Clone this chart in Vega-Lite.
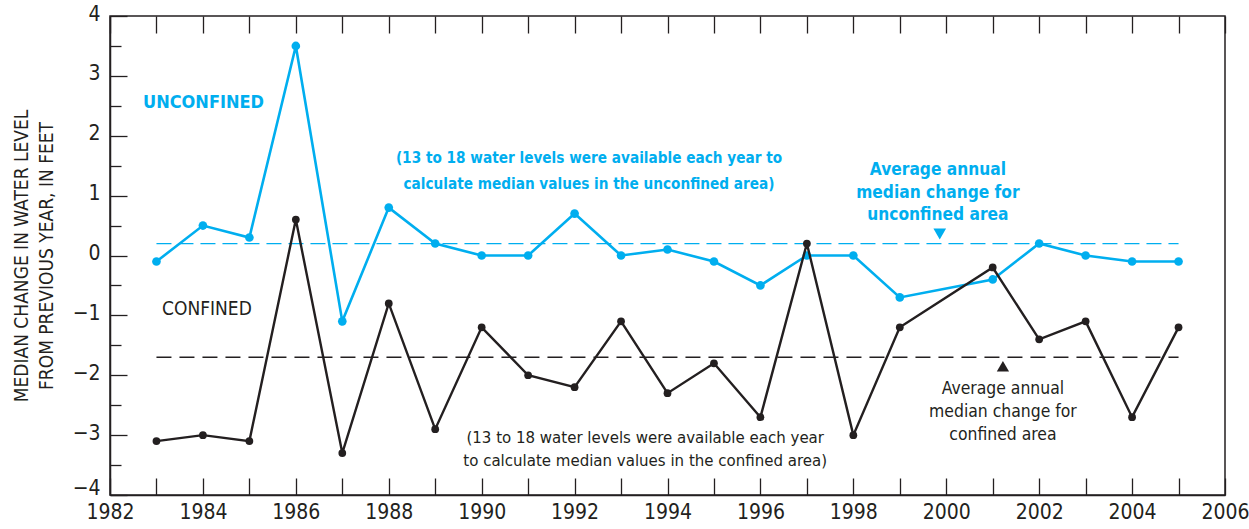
{
  "$schema": "https://vega.github.io/schema/vega-lite/v6.json",
  "width": 1115,
  "height": 479,
  "autosize": {"type": "none"},
  "padding": {"left": 110, "top": 16, "right": 24, "bottom": 34},
  "background": "white",
  "config": {
    "view": {"stroke": "#231F20", "strokeWidth": 1.5},
    "font": "Liberation Sans Narrow, DejaVu Sans Condensed, Liberation Sans",
    "axis": {"grid": false, "domainColor": "#231F20", "tickColor": "#231F20", "labelColor": "#231F20", "titleColor": "#231F20", "tickWidth": 1.3, "domainWidth": 1.5}
  },
  "datasets": {
    "unconfined": [
      {"year": 1983, "change": -0.1}, {"year": 1984, "change": 0.5}, {"year": 1985, "change": 0.3},
      {"year": 1986, "change": 3.5}, {"year": 1987, "change": -1.1}, {"year": 1988, "change": 0.8},
      {"year": 1989, "change": 0.2}, {"year": 1990, "change": 0.0}, {"year": 1991, "change": 0.0},
      {"year": 1992, "change": 0.7}, {"year": 1993, "change": 0.0}, {"year": 1994, "change": 0.1},
      {"year": 1995, "change": -0.1}, {"year": 1996, "change": -0.5}, {"year": 1997, "change": 0.0},
      {"year": 1998, "change": 0.0}, {"year": 1999, "change": -0.7}, {"year": 2001, "change": -0.4},
      {"year": 2002, "change": 0.2}, {"year": 2003, "change": 0.0}, {"year": 2004, "change": -0.1},
      {"year": 2005, "change": -0.1}
    ],
    "confined": [
      {"year": 1983, "change": -3.1}, {"year": 1984, "change": -3.0}, {"year": 1985, "change": -3.1},
      {"year": 1986, "change": 0.6}, {"year": 1987, "change": -3.3}, {"year": 1988, "change": -0.8},
      {"year": 1989, "change": -2.9}, {"year": 1990, "change": -1.2}, {"year": 1991, "change": -2.0},
      {"year": 1992, "change": -2.2}, {"year": 1993, "change": -1.1}, {"year": 1994, "change": -2.3},
      {"year": 1995, "change": -1.8}, {"year": 1996, "change": -2.7}, {"year": 1997, "change": 0.2},
      {"year": 1998, "change": -3.0}, {"year": 1999, "change": -1.2}, {"year": 2001, "change": -0.2},
      {"year": 2002, "change": -1.4}, {"year": 2003, "change": -1.1}, {"year": 2004, "change": -2.7},
      {"year": 2005, "change": -1.2}
    ],
    "avgUnconfined": [{"year": 1983, "change": 0.2}, {"year": 2005, "change": 0.2}],
    "avgConfined": [{"year": 1983, "change": -1.7}, {"year": 2005, "change": -1.7}],
    "triDown": [{"year": 1999.86, "change": 0.36}],
    "triUp": [{"year": 2001.22, "change": -1.85}],
    "blueBig": [{"year": 1982.71, "change": 2.55, "label": "UNCONFINED"}],
    "blackBig": [{"year": 1983.12, "change": -0.9, "label": "CONFINED"}],
    "blueNote": [{"year": 1992.31, "change": 1.636, "label": "(13 to 18 water levels were available each year to\ncalculate median values in the unconfined area)"}],
    "blueAvg": [{"year": 1999.82, "change": 1.42, "label": "Average annual\nmedian change for\nunconfined area"}],
    "blackNote": [{"year": 1993.52, "change": -3.055, "label": "(13 to 18 water levels were available each year\nto calculate median values in the confined area)"}],
    "blackAvg": [{"year": 2001.22, "change": -2.237, "label": "Average annual\nmedian change for\nconfined area"}]
  },
  "layer": [
    {
      "data": {"name": "avgUnconfined"},
      "mark": {"type": "line", "color": "#00AEEF", "strokeWidth": 1.2, "strokeDash": [15, 7]},
      "encoding": {
        "x": {"field": "year", "type": "quantitative", "scale": {"domain": [1982, 2006], "nice": false, "zero": false},
          "axis": {"orient": "bottom", "values": [1982,1983,1984,1985,1986,1987,1988,1989,1990,1991,1992,1993,1994,1995,1996,1997,1998,1999,2000,2001,2002,2003,2004,2005,2006],
            "format": "d", "labelExpr": "datum.value % 2 == 0 ? datum.label : ''", "tickSize": -17, "labelPadding": 23,
            "labelFontSize": 21, "labelOverlap": false, "labelFlush": false, "title": null}},
        "y": {"field": "change", "type": "quantitative", "scale": {"domain": [-4, 4], "nice": false, "zero": false},
          "axis": {"orient": "left", "values": [-4,-3,-2,-1,0,1,2,3,4], "format": "d", "tickSize": -17, "labelPadding": 27,
            "labelFontSize": 21, "labelOverlap": false, "labelFlush": false,
            "labelOffset": {"condition": {"test": "datum.value == -4", "value": -7}, "value": -2},
            "title": ["MEDIAN CHANGE IN WATER LEVEL", "FROM PREVIOUS YEAR, IN FEET"],
            "titleFontSize": 19, "titleFontWeight": "normal", "titleLineHeight": 25, "titlePadding": 16}}
      }
    },
    {
      "data": {"name": "avgConfined"},
      "mark": {"type": "line", "color": "#231F20", "strokeWidth": 1.6, "strokeDash": [15, 8]},
      "encoding": {
        "x": {"field": "year", "type": "quantitative",
          "axis": {"orient": "top", "values": [1982,1983,1984,1985,1986,1987,1988,1989,1990,1991,1992,1993,1994,1995,1996,1997,1998,1999,2000,2001,2002,2003,2004,2005,2006],
            "labels": false, "domain": false, "tickSize": -17, "title": null}},
        "y": {"field": "change", "type": "quantitative",
          "axis": {"orient": "left", "values": [-3.5,-2.5,-1.5,-0.5,0.5,1.5,2.5,3.5], "labels": false, "domain": false, "tickSize": -11, "title": null}}
      }
    },
    {
      "data": {"name": "unconfined"},
      "mark": {"type": "line", "color": "#00AEEF", "strokeWidth": 2.6, "point": {"filled": true, "size": 75, "color": "#00AEEF"}},
      "encoding": {
        "x": {"field": "year", "type": "quantitative", "axis": null},
        "y": {"field": "change", "type": "quantitative", "axis": null}
      }
    },
    {
      "data": {"name": "confined"},
      "mark": {"type": "line", "color": "#231F20", "strokeWidth": 2.4, "point": {"filled": true, "size": 60, "color": "#231F20"}},
      "encoding": {
        "x": {"field": "year", "type": "quantitative", "axis": null},
        "y": {"field": "change", "type": "quantitative", "axis": null}
      }
    },
    {
      "data": {"name": "triDown"},
      "mark": {"type": "point", "shape": "triangle-down", "filled": true, "size": 160, "color": "#00AEEF", "opacity": 1},
      "encoding": {
        "x": {"field": "year", "type": "quantitative", "axis": null},
        "y": {"field": "change", "type": "quantitative", "axis": null}
      }
    },
    {
      "data": {"name": "triUp"},
      "mark": {"type": "point", "shape": "triangle-up", "filled": true, "size": 150, "color": "#231F20", "opacity": 1},
      "encoding": {
        "x": {"field": "year", "type": "quantitative", "axis": null},
        "y": {"field": "change", "type": "quantitative", "axis": null}
      }
    },
    {
      "data": {"name": "blueBig"},
      "mark": {"type": "text", "align": "left", "baseline": "middle", "fontSize": 18, "fontWeight": "bold", "color": "#00AEEF"},
      "encoding": {
        "x": {"field": "year", "type": "quantitative", "axis": null},
        "y": {"field": "change", "type": "quantitative", "axis": null},
        "text": {"field": "label"}
      }
    },
    {
      "data": {"name": "blackBig"},
      "mark": {"type": "text", "align": "left", "baseline": "middle", "fontSize": 19, "color": "#231F20"},
      "encoding": {
        "x": {"field": "year", "type": "quantitative", "axis": null},
        "y": {"field": "change", "type": "quantitative", "axis": null},
        "text": {"field": "label"}
      }
    },
    {
      "data": {"name": "blueNote"},
      "mark": {"type": "text", "align": "center", "baseline": "middle", "fontSize": 15.2, "fontWeight": "bold", "color": "#00AEEF", "lineBreak": "\n", "lineHeight": 26},
      "encoding": {
        "x": {"field": "year", "type": "quantitative", "axis": null},
        "y": {"field": "change", "type": "quantitative", "axis": null},
        "text": {"field": "label"}
      }
    },
    {
      "data": {"name": "blueAvg"},
      "mark": {"type": "text", "align": "center", "baseline": "middle", "fontSize": 17.2, "fontWeight": "bold", "color": "#00AEEF", "lineBreak": "\n", "lineHeight": 22.5},
      "encoding": {
        "x": {"field": "year", "type": "quantitative", "axis": null},
        "y": {"field": "change", "type": "quantitative", "axis": null},
        "text": {"field": "label"}
      }
    },
    {
      "data": {"name": "blackNote"},
      "mark": {"type": "text", "align": "center", "baseline": "middle", "fontSize": 16.7, "color": "#231F20", "lineBreak": "\n", "lineHeight": 23},
      "encoding": {
        "x": {"field": "year", "type": "quantitative", "axis": null},
        "y": {"field": "change", "type": "quantitative", "axis": null},
        "text": {"field": "label"}
      }
    },
    {
      "data": {"name": "blackAvg"},
      "mark": {"type": "text", "align": "center", "baseline": "middle", "fontSize": 17.4, "color": "#231F20", "lineBreak": "\n", "lineHeight": 23},
      "encoding": {
        "x": {"field": "year", "type": "quantitative", "axis": null},
        "y": {"field": "change", "type": "quantitative", "axis": null},
        "text": {"field": "label"}
      }
    }
  ],
  "resolve": {"axis": {"x": "independent", "y": "independent"}}
}
